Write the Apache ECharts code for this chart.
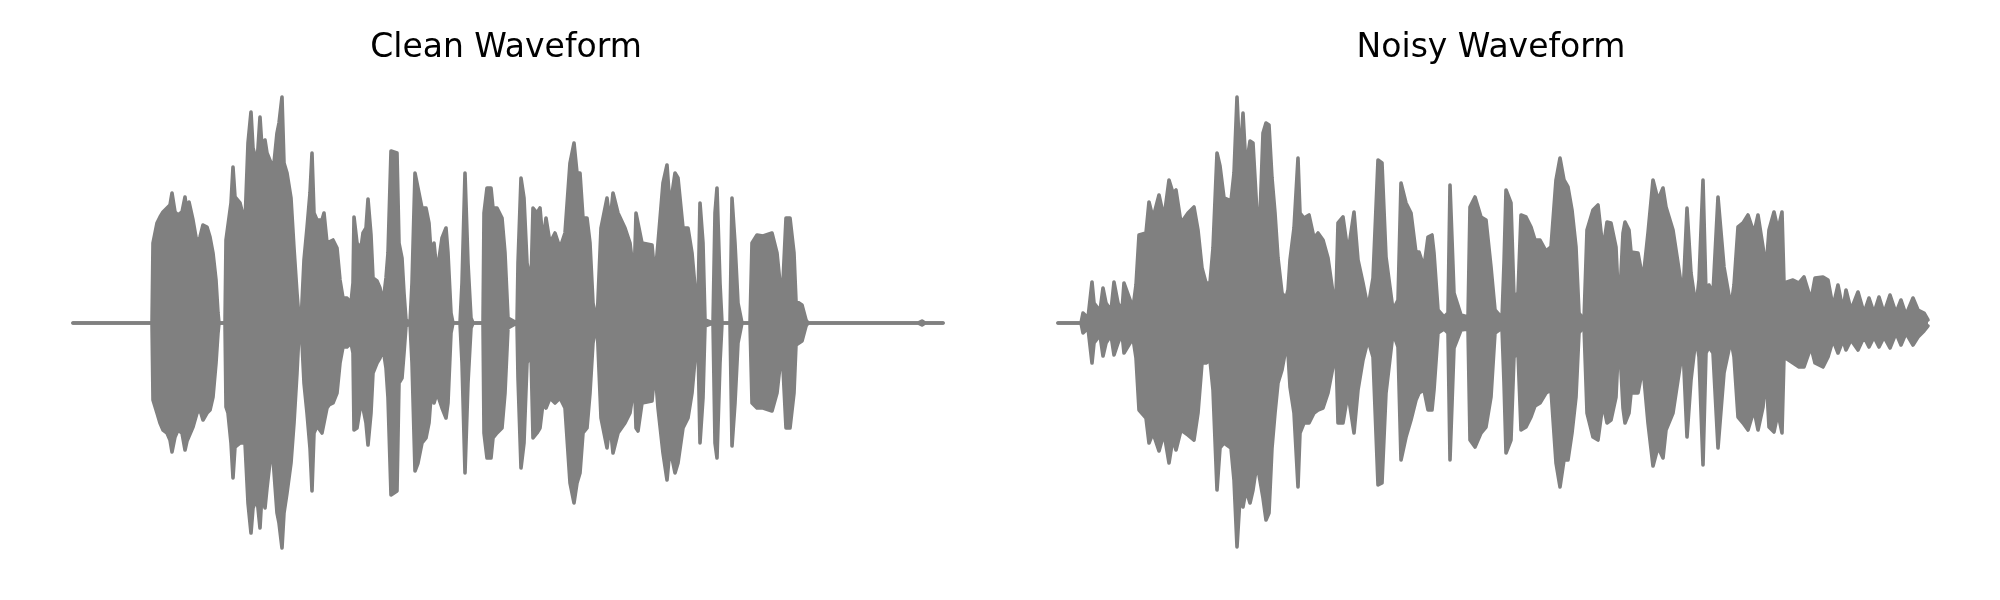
<!DOCTYPE html>
<html><head><meta charset="utf-8">
<script src="https://cdn.jsdelivr.net/npm/echarts@6/dist/echarts.min.js"></script>
<style>html,body{margin:0;padding:0;background:#fff}#c{width:2000px;height:600px}</style>
</head><body><div id="c"></div>
<script>
// Envelope of each waveform: time (arbitrary units), max and min amplitude
const titles = ['Clean Waveform', 'Noisy Waveform'];

const cleanTime = [
  0,79,80,84,87,90,94,97,99,102,
  105,109,112,114,116,120,124,127,130,134,
  137,140,143,145,146,152,153,155,158,160,
  162,167,172,175,178,180,184,187,189,192,
  194,198,200,204,206,209,211,214,218,221,
  224,226,228,230,231,234,237,239,241,244,
  249,251,254,256,260,264,267,270,274,278,
  280,281,284,288,290,293,295,298,300,304,
  307,310,313,315,318,320,324,326,329,331,
  333,337,339,342,345,349,353,356,359,361,
  364,369,373,375,378,380,387,389,392,395,
  398,400,410,411,414,418,420,424,429,432,
  435,444,445,448,451,454,458,460,464,467,
  470,473,477,482,487,492,497,501,504,507,
  510,514,517,520,524,526,528,532,534,537,
  540,545,547,552,557,560,561,563,565,569,
  579,582,585,590,594,597,602,605,610,615,
  619,623,625,627,630,632,640,642,644,647,
  649,657,659,662,665,669,677,679,684,690,
  699,704,709,713,717,721,723,729,733,735,
  845,849,852,870
];
const cleanMax = [
  0,0,80,100,106,111,115,118,130,111,
  108,111,126,110,121,103,80,86,98,96,
  86,70,43,10,0,0,83,83,120,156,
  126,120,100,180,211,175,160,206,175,183,
  170,160,150,190,200,226,160,150,125,75,
  30,5,0,0,63,95,130,170,110,103,
  103,110,80,82,83,75,43,25,25,20,
  40,106,80,75,90,95,124,88,45,42,
  35,20,45,70,172,170,170,80,65,30,
  3,0,40,150,135,115,115,100,55,80,
  50,85,95,70,10,0,0,40,150,60,
  5,0,0,110,135,135,115,115,105,70,
  5,0,60,145,125,60,40,115,110,115,
  80,105,80,90,75,90,160,180,150,150,
  105,105,80,20,0,0,95,115,125,100,
  130,110,110,95,80,55,40,110,110,80,
  78,45,80,140,158,115,150,145,95,95,
  70,25,20,120,80,3,0,110,135,40,
  0,0,125,80,20,0,0,80,88,87,
  90,70,20,105,105,70,22,18,3,0,
  0,2,0,0
];
const cleanMin = [
  0,0,-77,-90,-100,-107,-110,-117,-129,-114,
  -107,-110,-127,-118,-120,-104,-90,-87,-97,-90,
  -87,-74,-40,-10,0,0,-84,-90,-120,-155,
  -124,-120,-120,-180,-210,-185,-175,-205,-170,-185,
  -165,-130,-135,-190,-200,-225,-190,-170,-140,-100,
  -50,-10,0,0,-60,-90,-125,-168,-110,-103,
  -110,-108,-85,-82,-80,-70,-40,-24,-24,-20,
  -30,-107,-105,-80,-85,-100,-122,-90,-50,-40,
  -35,-25,-45,-75,-172,-170,-168,-60,-55,-30,
  -3,0,-40,-148,-140,-120,-115,-100,-60,-80,
  -70,-85,-95,-80,-10,0,0,-40,-150,-60,
  -5,0,0,-110,-135,-135,-115,-110,-105,-70,
  -5,0,-55,-145,-120,-40,-30,-115,-110,-105,
  -80,-85,-75,-80,-75,-85,-160,-180,-160,-150,
  -110,-105,-70,-20,0,0,-95,-115,-125,-100,
  -130,-110,-110,-100,-90,-70,-40,-105,-108,-80,
  -78,-45,-85,-130,-157,-125,-150,-140,-105,-95,
  -70,-25,-20,-120,-75,-3,0,-120,-135,-40,
  0,0,-123,-80,-20,0,0,-80,-85,-85,
  -88,-70,-25,-105,-105,-70,-22,-18,-3,0,
  0,-2,0,0
];

const noisyTime = [
  0,23,25,30,34,36,42,45,48,53,
  56,60,64,66,75,78,81,88,91,95,
  101,106,111,115,118,123,130,136,140,144,
  148,152,155,159,162,166,173,176,179,182,
  185,188,192,195,199,201,205,208,211,214,
  217,220,224,228,230,232,236,240,242,246,
  251,256,260,265,270,275,278,280,285,290,
  296,300,305,310,315,320,324,328,335,340,
  343,348,353,358,361,366,370,374,376,380,
  386,390,392,396,403,410,412,417,423,428,
  433,437,444,446,448,453,456,460,463,468,
  473,477,482,488,493,498,502,506,510,514,
  518,521,526,529,535,540,545,549,553,558,
  561,565,567,571,573,580,585,590,595,600,
  605,608,615,620,625,629,633,638,641,645,
  648,651,655,660,666,673,676,680,685,690,
  696,700,705,708,711,716,720,724,726,735,
  741,746,753,757,765,770,775,780,785,788,
  793,800,806,811,816,821,826,832,838,843,
  848,855,860,866,870
];
const noisyMax = [
  0,0,10,5,41,20,12,35,20,12,
  41,20,12,40,15,38,88,90,121,105,
  128,105,143,130,133,100,110,116,93,55,
  40,40,75,170,157,125,122,150,226,160,
  210,155,182,180,110,80,190,200,198,145,
  110,65,30,25,33,63,95,165,110,105,
  108,85,90,83,65,30,27,100,106,70,
  111,63,40,15,45,163,160,66,13,23,
  140,120,110,70,71,56,86,88,70,13,
  6,10,138,30,8,6,116,126,106,103,
  56,13,5,60,133,120,26,30,108,106,
  96,83,83,72,76,143,165,143,136,113,
  76,10,3,93,113,118,73,101,100,76,
  10,90,101,93,71,70,43,90,143,123,
  135,116,93,60,26,115,50,16,43,143,
  30,38,30,126,56,16,38,96,100,108,
  90,108,76,53,93,111,93,111,40,43,
  40,46,23,45,46,43,16,38,13,33,
  13,31,10,25,10,26,10,28,10,23,
  8,25,13,10,3
];
const noisyMin = [
  0,0,-10,-5,-40,-20,-12,-33,-20,-12,
  -32,-20,-10,-30,-15,-35,-87,-95,-120,-110,
  -128,-110,-140,-115,-127,-107,-112,-117,-90,-40,
  -40,-37,-67,-167,-125,-120,-125,-157,-224,-175,
  -184,-167,-180,-167,-140,-140,-175,-197,-190,-125,
  -90,-60,-47,-25,-30,-64,-90,-164,-110,-100,
  -100,-90,-87,-85,-70,-44,-30,-100,-100,-70,
  -110,-67,-37,-17,-34,-162,-160,-70,-10,-24,
  -137,-114,-97,-77,-70,-67,-87,-87,-67,-10,
  -6,-10,-137,-25,-7,-6,-117,-124,-110,-104,
  -74,-10,-5,-60,-130,-117,-34,-30,-107,-104,
  -94,-83,-80,-70,-67,-140,-164,-137,-137,-110,
  -74,-10,-3,-90,-114,-117,-80,-100,-97,-74,
  -10,-85,-100,-90,-70,-70,-44,-100,-143,-124,
  -135,-107,-90,-57,-24,-114,-57,-14,-34,-142,
  -30,-24,-30,-125,-50,-17,-34,-94,-100,-107,
  -87,-107,-84,-50,-104,-109,-90,-110,-34,-40,
  -44,-44,-24,-40,-44,-34,-17,-30,-17,-27,
  -17,-27,-14,-24,-14,-24,-14,-25,-10,-22,
  -10,-22,-14,-8,-3
];

function pairs(t, v) { return t.map((x, i) => [x, v[i]]); }

const GRAY = '#808080';
function envSeries(idx, t, v) {
  return {
    type: 'line', xAxisIndex: idx, yAxisIndex: idx,
    data: pairs(t, v), symbol: 'none', showSymbol: false,
    clip: false, silent: true, animation: false,
    lineStyle: { color: GRAY, width: 3.6, cap: 'round', join: 'round' },
    areaStyle: { color: GRAY, opacity: 1 },
    z: 2
  };
}

const chart = echarts.init(document.getElementById('c'), null, { renderer: 'canvas' });
const grids = [
  { left: 73, width: 870, top: 83, height: 480 },
  { left: 1058, width: 870, top: 83, height: 480 }
];
const titleFont = { fontFamily: 'DejaVu Sans', fontSize: 33, fontWeight: 'normal', color: '#000' };
chart.setOption({
  backgroundColor: '#fff',
  animation: false,
  title: [
    { text: titles[0], left: 501, top: 27, textAlign: 'center', textStyle: titleFont },
    { text: titles[1], left: 1486, top: 27, textAlign: 'center', textStyle: titleFont }
  ],
  grid: grids,
  xAxis: grids.map((g, i) => ({ type: 'value', gridIndex: i, min: 0, max: 870, show: false })),
  yAxis: grids.map((g, i) => ({ type: 'value', gridIndex: i, min: -240, max: 240, show: false })),
  series: [
    envSeries(0, cleanTime, cleanMax),
    envSeries(0, cleanTime, cleanMin),
    envSeries(1, noisyTime, noisyMax),
    envSeries(1, noisyTime, noisyMin)
  ]
});
</script>
</body></html>
